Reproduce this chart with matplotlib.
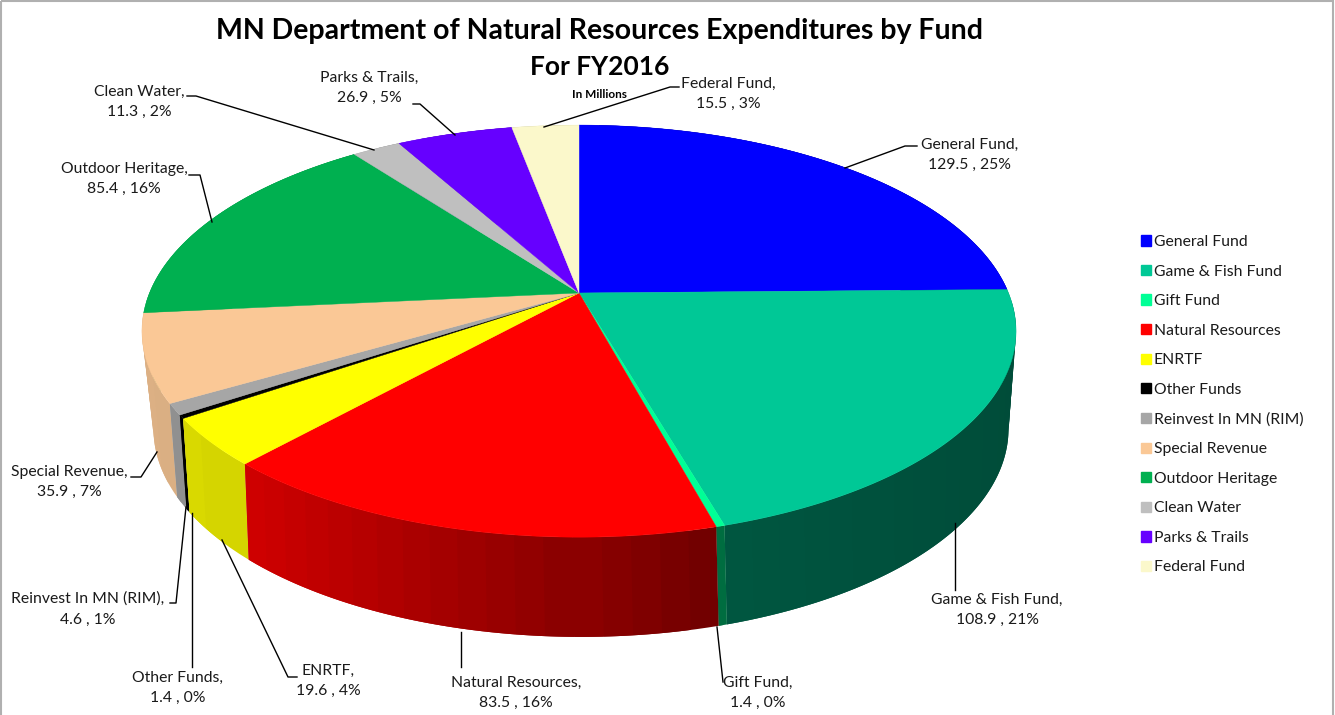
import numpy as np
import matplotlib
matplotlib.use('Agg')
import matplotlib.pyplot as plt
from matplotlib.patches import Patch, Rectangle

plt.rcParams['font.family'] = ['Lato', 'DejaVu Sans']

funds = ['General Fund', 'Game & Fish Fund', 'Gift Fund', 'Natural Resources', 'ENRTF',
         'Other Funds', 'Reinvest In MN (RIM)', 'Special Revenue', 'Outdoor Heritage',
         'Clean Water', 'Parks & Trails', 'Federal Fund']
values = [129.5, 108.9, 1.4, 83.5, 19.6, 1.4, 4.6, 35.9, 85.4, 11.3, 26.9, 15.5]
percents = [25, 21, 0, 16, 4, 0, 1, 7, 16, 2, 5, 3]
colors = ['#0000FF', '#00C896', '#00FF96', '#FF0000', '#FFFF00', '#000000',
          '#A6A6A6', '#FAC896', '#00B050', '#BFBFBF', '#6600FF', '#FBF8CB']

# label centre, then leader line points (pixel layout of the picture)
label_pos = [(970, 155), (997, 610), (758, 693), (516, 693), (328, 681), (178, 688),
             (88, 609), (69, 482), (124, 179), (139, 102), (369, 88), (728, 94)]
leaders = [
    [(917, 146), (905, 146), (845, 168)],
    [(955, 590), (955, 523)],
    [(723, 682), (717, 627)],
    [(461, 667), (461, 632)],
    [(297, 677), (288, 677), (222, 540)],
    [(192, 667), (192, 513)],
    [(170, 603), (176, 603), (186, 507)],
    [(131, 477), (141, 477), (157, 452)],
    [(189, 175), (200, 175), (212, 222)],
    [(187, 96), (196, 96), (374, 150)],
    [(413, 104), (420, 104), (455, 135)],
    [(679, 87), (670, 87), (544, 127)],
]

# perspective of the pie: w shrinks towards the viewer
cx, cy = 579, 293
a, b, k = 429.5, 199, 0.185
cx2, a2, b2, k2, depth = 581, 418, 199, 0.21, 92


def top_ring(t):
    x, y = np.sin(t), np.cos(t)
    w = 1 + k * y
    return cx + a * x / w, cy - b * y / w


def bottom_ring(t):
    x, y = np.sin(t), np.cos(t)
    w = 1 + k2 * y
    return cx2 + a2 * x / w, cy + depth - b2 * y / w


def wall_shade(x):
    return np.interp(x, [150, 250, 710, 1020], [0.88, 0.82, 0.43, 0.38])


fig = plt.figure(figsize=(13.35, 7.15), dpi=100)
ax = fig.add_axes([0, 0, 1, 1])
ax.set_xlim(0, 1335)
ax.set_ylim(715, 0)
ax.axis('off')

angles = np.concatenate([[0], np.cumsum(values)]) / sum(values) * 2 * np.pi

# side wall, strip by strip so the shading runs along the rim
strips = []
for i, c in enumerate(colors):
    t = np.linspace(angles[i], angles[i + 1], max(3, int(np.degrees(angles[i + 1] - angles[i]) / 3)))
    rgb = np.array(matplotlib.colors.to_rgb(c))
    for j in range(len(t) - 1):
        # runs on over the next strip so no seams show
        strips.append((t[j], t[min(j + 2, len(t) - 1)], t[j + 1], rgb))

# back of the pie first, front last
strips.sort(key=lambda s: -np.cos(s[2]))
for t0, t1, tm, rgb in strips:
    tt = np.linspace(t0, t1, 6)
    xt, yt = top_ring(tt)
    xb, yb = bottom_ring(tt)
    col = rgb * wall_shade(top_ring(tm)[0])
    ax.fill(np.r_[xt, xb[::-1]], np.r_[yt, yb[::-1]], color=col, lw=0, zorder=2)

# top face
for i, c in enumerate(colors):
    t = np.linspace(angles[i], angles[i + 1], 120)
    x, y = top_ring(t)
    ax.fill(np.r_[cx, x], np.r_[cy, y], color=c, lw=0.3, zorder=3)

for i, name in enumerate(funds):
    ax.text(label_pos[i][0], label_pos[i][1], f'{name},\n{values[i]} , {percents[i]}%',
            ha='center', va='center', fontsize=11.3, color='#1a1a1a', linespacing=1.6, zorder=6)
    pts = np.array(leaders[i])
    ax.plot(pts[:, 0], pts[:, 1], color='black', lw=1, zorder=5)

ax.text(600, 31, 'MN Department of Natural Resources Expenditures by Fund', ha='center', va='center',
        fontsize=20.5, fontweight='bold', color='black', zorder=6)
ax.text(600, 67, 'For FY2016', ha='center', va='center', fontsize=19, fontweight='bold', color='black', zorder=6)
ax.text(600, 95, 'In Millions', ha='center', va='center', fontsize=8.5, fontweight='bold', color='black', zorder=6)

ax.add_patch(Rectangle((1, 1), 1332, 730, fill=False, ec='#B0B0B0', lw=1.5, zorder=1))

handles = [Patch(color=c, label=n) for c, n in zip(colors, funds)]
ax.legend(handles=handles, loc='upper left', bbox_to_anchor=(1127, 221), bbox_transform=ax.transData,
          frameon=False, fontsize=11.3, handlelength=0.64, handleheight=0.64, handletextpad=0.18,
          labelspacing=0.99, labelcolor='#1a1a1a')

fig.savefig('out.png', dpi=100)
